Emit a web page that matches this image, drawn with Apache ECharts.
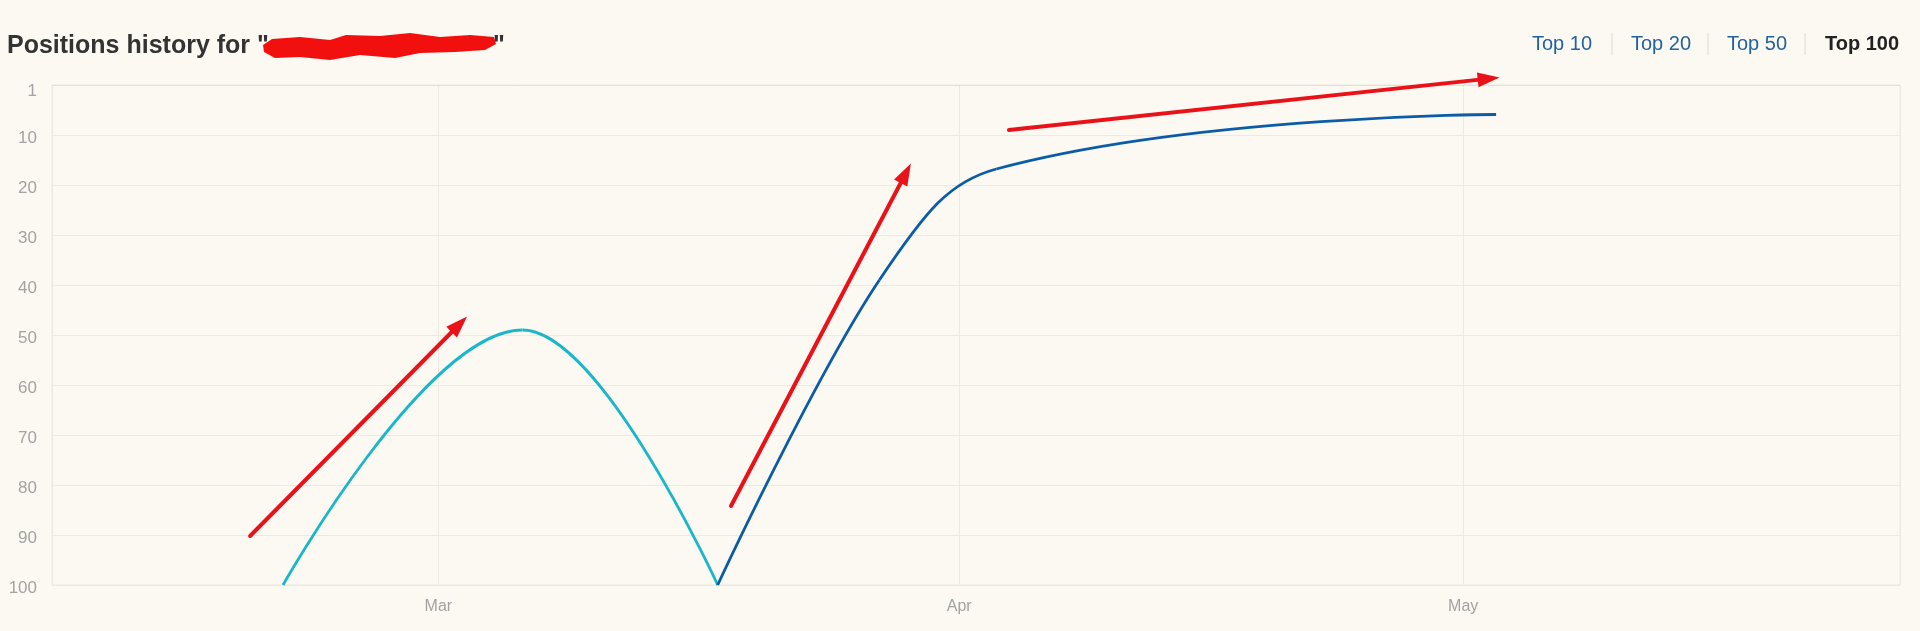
<!DOCTYPE html>
<html><head><meta charset="utf-8">
<script src="https://cdn.jsdelivr.net/npm/echarts@6/dist/echarts.min.js"></script>
<style>html,body{margin:0;padding:0;background:#fcf9f2;} #c{width:1920px;height:631px;}</style>
</head><body><div id="c"></div>
<script>
// ---- data (positions: 1 = best, 100 = bottom) ----
const cyanDates  = ['2019-02-19 18:00','2019-03-06 00:00','2019-03-17 15:00'];
const cyanValues = [100, 49, 100];
const blueDates  = ['2019-03-17 15:00','2019-03-27 06:00','2019-04-03 05:00','2019-05-02 23:00'];
const blueValues = [100, 39, 16.8, 5.9];
// red annotation arrows (start -> tip)
const arrowStartDates  = ['2019-02-17 19:00','2019-03-18 10:00','2019-04-03 23:00'];
const arrowStartValues = [90.2, 84.2, 9];
const arrowTipDates    = ['2019-03-02 17:00','2019-03-29 03:00','2019-05-03 04:00'];
const arrowTipValues   = [46.3, 15.7, -1.5];
const yTickLabels = ['1','10','20','30','40','50','60','70','80','90','100'];
const monthLabels = ['Jan','Feb','Mar','Apr','May','Jun','Jul','Aug','Sep','Oct','Nov','Dec'];
const linkLabels = ['Top 10','Top 20','Top 50','Top 100'];
const titleText = 'Positions history for "';
const xMin = '2019-02-06 00:00', xMax = '2019-05-27 00:00';

function t(s){
  const [d,h] = s.split(' ');
  const [Y,M,D] = d.split('-').map(Number);
  const [hh,mm] = (h||'00:00').split(':').map(Number);
  return new Date(Y,M-1,D,hh,mm).getTime();
}
const zip = (ds, vs) => ds.map((d,i)=>[t(d), vs[i]]);

// spline control points (same construction as the original chart's spline)
function splineSegments(pts){
  const sm = 1.5, den = 2.5, n = pts.length;
  const ctrl = pts.map((p,i)=>{
    if (i===0 || i===n-1) return {l:p, r:p};
    const [lx,ly]=pts[i-1], [px,py]=p, [nx,ny]=pts[i+1];
    let lcx=(sm*px+lx)/den, lcy=(sm*py+ly)/den, rcx=(sm*px+nx)/den, rcy=(sm*py+ny)/den;
    if (rcx!==lcx){
      const corr=((rcy-lcy)*(rcx-px))/(rcx-lcx)+py-rcy; lcy+=corr; rcy+=corr;
      if (lcy>ly && lcy>py){lcy=Math.max(ly,py); rcy=2*py-lcy;}
      else if (lcy<ly && lcy<py){lcy=Math.min(ly,py); rcy=2*py-lcy;}
      if (rcy>ny && rcy>py){rcy=Math.max(ny,py); lcy=2*py-rcy;}
      else if (rcy<ny && rcy<py){rcy=Math.min(ny,py); lcy=2*py-rcy;}
    }
    return {l:[lcx,lcy], r:[rcx,rcy]};
  });
  const segs=[];
  for (let i=1;i<n;i++){
    segs.push({x1:pts[i-1][0],y1:pts[i-1][1],cpx1:ctrl[i-1].r[0],cpy1:ctrl[i-1].r[1],
               cpx2:ctrl[i].l[0],cpy2:ctrl[i].l[1],x2:pts[i][0],y2:pts[i][1]});
  }
  return segs;
}
function splineSeries(name, data, color){
  return {
    type:'custom', name, data, encode:{x:0,y:1}, animation:false,
    renderItem:(params, api)=>{
      if (params.dataIndex !== 0) return null;
      const pts = data.map(d=>api.coord(d));
      return {type:'group', children: splineSegments(pts).map(s=>({
        type:'bezierCurve', shape:s, style:{stroke:color, lineWidth:2.8, fill:null}
      }))};
    }
  };
}

const FONT = 'Arial, "Liberation Sans", Helvetica, sans-serif';
const chart = echarts.init(document.getElementById('c'), null, {renderer:'canvas'});

const linkX = [1532, 1631, 1727, 1825];
const sepX = [1612, 1708, 1805];
const headerGraphics = [
  {type:'text', style:{text:titleText, x:7, y:46, verticalAlign:'middle', font:'bold 25px '+FONT, fill:'#333'}},
  {type:'polygon', shape:{points:[[263,45],[272,39],[300,37],[330,40],[346,35],[380,36],[410,33],[440,37],[470,35],[494,37],[496,44],[485,50],[455,52],[420,53],[395,58],[360,55],[330,60],[300,57],[275,58],[264,52]]}, style:{fill:'#f2100f'}},
  {type:'text', style:{text:'"', x:493, y:46, verticalAlign:'middle', font:'bold 25px '+FONT, fill:'#333'}}
];
linkLabels.forEach((s,i)=>{
  const last = i === linkLabels.length-1;
  headerGraphics.push({type:'text', style:{text:s, x:linkX[i], y:44, verticalAlign:'middle',
    font:(last?'bold ':'')+'20px '+FONT, fill: last ? '#222' : '#22639e'}});
});
sepX.forEach(x=>headerGraphics.push({type:'line', shape:{x1:x,y1:33,x2:x,y2:55}, style:{stroke:'#dedad2', lineWidth:1}}));

chart.setOption({
  animation:false,
  backgroundColor:'#fcf9f2',
  graphic: headerGraphics,
  grid:{left:52, right:20, top:85, bottom:46, show:true, borderColor:'#ebe7de', borderWidth:1, backgroundColor:'transparent'},
  xAxis:{
    type:'time', min:t(xMin), max:t(xMax), minInterval:28*864e5, splitNumber:3,
    axisLine:{show:true, lineStyle:{color:'#e4e0d7'}},
    axisTick:{show:false},
    splitLine:{show:true, lineStyle:{color:'#eeeae1'}},
    axisLabel:{color:'#a3a3a3', fontSize:16, fontFamily:FONT, margin:14,
      formatter:(v)=>monthLabels[new Date(v).getMonth()]}
  },
  yAxis:{
    type:'value', inverse:true, min:0, max:100, interval:10,
    axisLine:{show:false}, axisTick:{show:false},
    splitLine:{show:true, lineStyle:{color:'#eeeae1'}},
    axisLabel:{color:'#a3a3a3', fontSize:17, fontFamily:FONT, margin:15, padding:[6,0,0,0],
      formatter:(v)=> v===0 ? '{first|'+yTickLabels[0]+'}' : yTickLabels[Math.round(v/10)],
      rich:{first:{color:'#a3a3a3', fontSize:17, fontFamily:FONT, padding:[7,0,0,0]}}}
  },
  series:[
    splineSeries('cyan', zip(cyanDates,cyanValues), '#19b7c9'),
    splineSeries('blue', zip(blueDates,blueValues), '#0b5ca8')
  ]
});

// red arrows placed through the chart's own scales
const arrowGraphics = [];
arrowStartDates.forEach((d,i)=>{
  const a = chart.convertToPixel({gridIndex:0}, [t(d), arrowStartValues[i]]);
  const b = chart.convertToPixel({gridIndex:0}, [t(arrowTipDates[i]), arrowTipValues[i]]);
  const dx=b[0]-a[0], dy=b[1]-a[1], L=Math.hypot(dx,dy), ux=dx/L, uy=dy/L;
  const headLen=22, headHalf=7.5;
  const bc=[b[0]-ux*headLen, b[1]-uy*headLen];
  arrowGraphics.push({type:'line', z:100, shape:{x1:a[0],y1:a[1],x2:bc[0]+ux*2,y2:bc[1]+uy*2}, style:{stroke:'#ea1219', lineWidth:4, lineCap:'round'}});
  arrowGraphics.push({type:'polygon', z:100, shape:{points:[b,[bc[0]-uy*headHalf, bc[1]+ux*headHalf],[bc[0]+uy*headHalf, bc[1]-ux*headHalf]]}, style:{fill:'#ea1219'}});
});
chart.setOption({graphic: headerGraphics.concat(arrowGraphics)});
</script></body></html>
